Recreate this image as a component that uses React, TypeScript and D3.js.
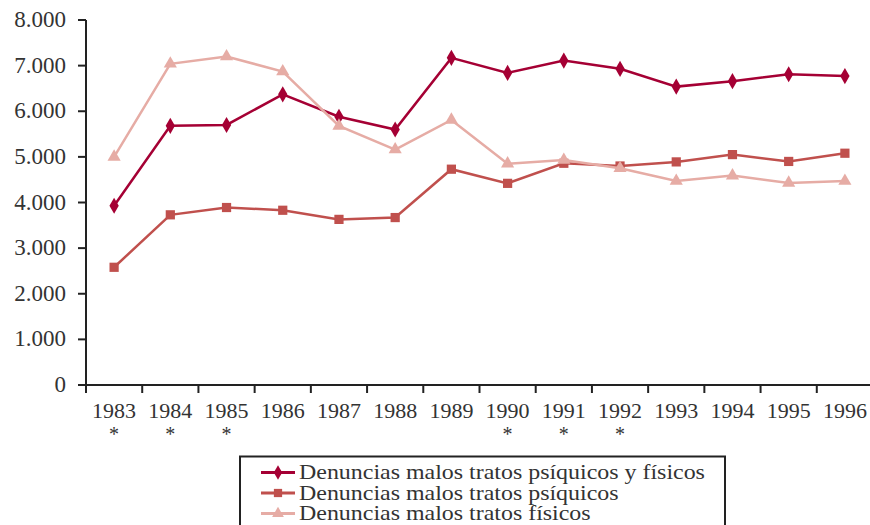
import React from 'react';
import * as d3 from 'd3';

const years = ['1983', '1984', '1985', '1986', '1987', '1988', '1989', '1990', '1991', '1992', '1993', '1994', '1995', '1996'];
const starred = ['1983', '1984', '1985', '1990', '1991', '1992'];
const yTicks = [0, 1000, 2000, 3000, 4000, 5000, 6000, 7000, 8000];

const ambos = [3930, 5680, 5700, 6370, 5880, 5600, 7170, 6840, 7110, 6930, 6540, 6660, 6810, 6770];
const psiquicos = [2580, 3730, 3890, 3830, 3630, 3670, 4730, 4420, 4860, 4800, 4890, 5050, 4900, 5080];
const fisicos = [5000, 7040, 7200, 6870, 5680, 5160, 5810, 4850, 4930, 4750, 4470, 4590, 4430, 4470];

const seriesNames = [
  'Denuncias malos tratos psíquicos y físicos',
  'Denuncias malos tratos psíquicos',
  'Denuncias malos tratos físicos',
];

const width = 870;
const height = 525;
const margin = { top: 20, right: -3, bottom: 140, left: 86 };
const serif = "'Liberation Serif'";

const series = [
  { name: seriesNames[0], values: ambos, color: '#a50034', marker: d3.symbolDiamond, size: 75 },
  { name: seriesNames[1], values: psiquicos, color: '#c0504d', marker: d3.symbolSquare, size: 85 },
  { name: seriesNames[2], values: fisicos, color: '#e6aca5', marker: d3.symbolTriangle, size: 75 },
];

export default function App() {
  const x = d3
    .scaleBand()
    .domain(years)
    .range([margin.left, width - margin.right]);
  const y = d3
    .scaleLinear()
    .domain([0, 8000])
    .range([height - margin.bottom, margin.top]);
  const fmt = (v: number) => d3.format(',')(v).replace(/,/g, '.');
  const cx = (yr: string) => (x(yr) as number) + x.bandwidth() / 2;

  const line = d3
    .line<number>()
    .x((d, i) => cx(years[i]))
    .y((d) => y(d));

  const y0 = y(0);
  const txt = (size: number) => ({ fontFamily: serif, fontSize: `${size}px` });

  return (
    <svg width={width} height={height} style={{ position: 'absolute', left: 0, top: 0, background: '#fff' }}>
      {yTicks.map((t) => (
        <g key={t}>
          <line x1={margin.left - 8} x2={margin.left} y1={y(t)} y2={y(t)} stroke="#222" strokeWidth={2} />
          <text x={66} y={y(t) + 7} textAnchor="end" fill="#333" style={txt(23)}>
            {fmt(t)}
          </text>
        </g>
      ))}
      {years.map((yr) => (
        <g key={yr}>
          <line x1={x(yr)} x2={x(yr)} y1={y0} y2={y0 + 8} stroke="#222" strokeWidth={2} />
          <text x={cx(yr)} y={418} textAnchor="middle" fill="#333" style={txt(22)}>
            {yr}
          </text>
          {starred.includes(yr) && (
            <text x={cx(yr)} y={441} textAnchor="middle" fill="#333" style={txt(20)}>
              *
            </text>
          )}
        </g>
      ))}
      <line x1={margin.left} x2={margin.left} y1={margin.top} y2={y0} stroke="#222" strokeWidth={2} />
      <line x1={margin.left - 8} x2={width} y1={y0} y2={y0} stroke="#222" strokeWidth={2} />

      {series.map((s) => (
        <g key={s.name}>
          <path d={line(s.values) as string} fill="none" stroke={s.color} strokeWidth={2.5} />
          {s.values.map((v, i) => (
            <path
              key={i}
              d={d3.symbol(s.marker, s.size)() as string}
              transform={`translate(${cx(years[i])},${y(v)})`}
              fill={s.color}
            />
          ))}
        </g>
      ))}

      <rect x={240} y={456.5} width={485} height={80} fill="#fff" stroke="#222" strokeWidth={2} />
      {series.map((s, i) => {
        const ly = 472.5 + i * 20.5;
        return (
          <g key={s.name}>
            <line x1={261} x2={295} y1={ly} y2={ly} stroke={s.color} strokeWidth={3} />
            <path d={d3.symbol(s.marker, s.size * 0.8)() as string} transform={`translate(278,${ly})`} fill={s.color} />
            <text x={0} y={0} fill="#333" style={txt(21)} transform={`translate(299,${ly + 6.5}) scale(1.14,1)`}>
              {s.name}
            </text>
          </g>
        );
      })}
    </svg>
  );
}
